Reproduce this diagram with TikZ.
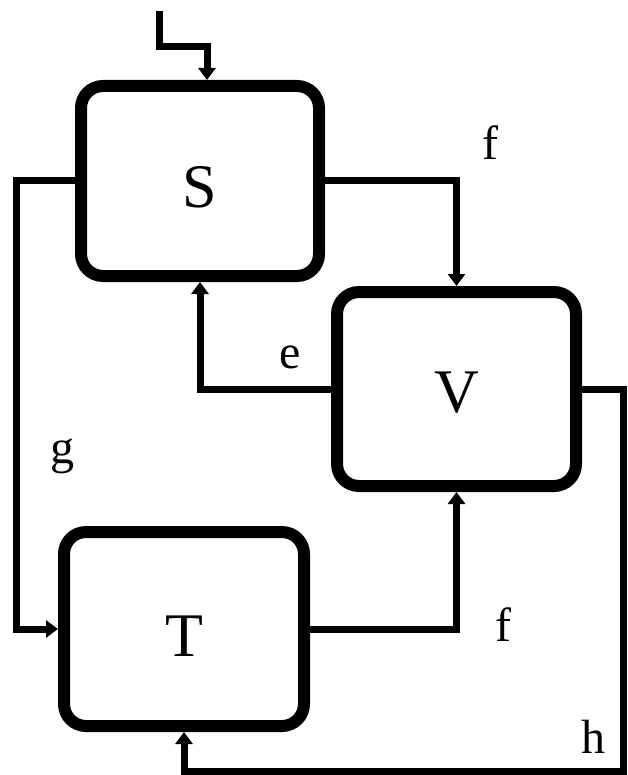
\documentclass[tikz,border=0pt]{standalone}
\usepackage{fontspec}
\setmainfont{Liberation Serif}
\usetikzlibrary{arrows.meta}

\newcommand{\lowered}[2]{\raisebox{-#1}[\height][\depth]{#2}}

\begin{document}
\begin{tikzpicture}[x=1pt, y=-1pt,
    block/.style={rectangle, draw, line width=12pt, rounded corners=22pt,
                  font=\fontsize{62}{62}\selectfont},
    conn/.style={line width=7pt, -{Triangle[length=12pt,width=17pt]}},
    lbl/.style={font=\fontsize{48}{48}\selectfont}]
  \useasboundingbox (0,0) rectangle (627,775);
  \path node (S) at (200,181)   [block, minimum width=238pt, minimum height=190pt] {\lowered{6pt}{S}}
        node (V) at (456.5,389) [block, minimum width=239pt, minimum height=194pt] {\lowered{4pt}{V}}
        node (T) at (184,629)   [block, minimum width=240pt, minimum height=194pt] {\lowered{7pt}{T}}
        %
        node (Sf) at (490,143) [lbl] {f}
        node (Ve) at (290,357) [lbl] {e}
        node (Sg) at (62,456)  [lbl] {g}
        node (Tf) at (503,625) [lbl] {f}
        node (Vh) at (593,737) [lbl] {h};
  \coordinate (in)  at (159.5,11);
  \coordinate (ink) at (207,47);
  \coordinate (gx)  at (16.5,400);
  \coordinate (hx)  at (623,771);
  \draw[conn] (in) |- (ink) -- (ink |- S.north);
  \draw[conn] (S.east) -| (V.north);
  \draw[conn] (V.west) -| (S.south);
  \draw[conn] (S.west) -| (gx) |- (T.west);
  \draw[conn] (T.east) -| (V.south);
  \draw[conn] (V.east) -| (hx) -| (T.south);
\end{tikzpicture}
\end{document}
